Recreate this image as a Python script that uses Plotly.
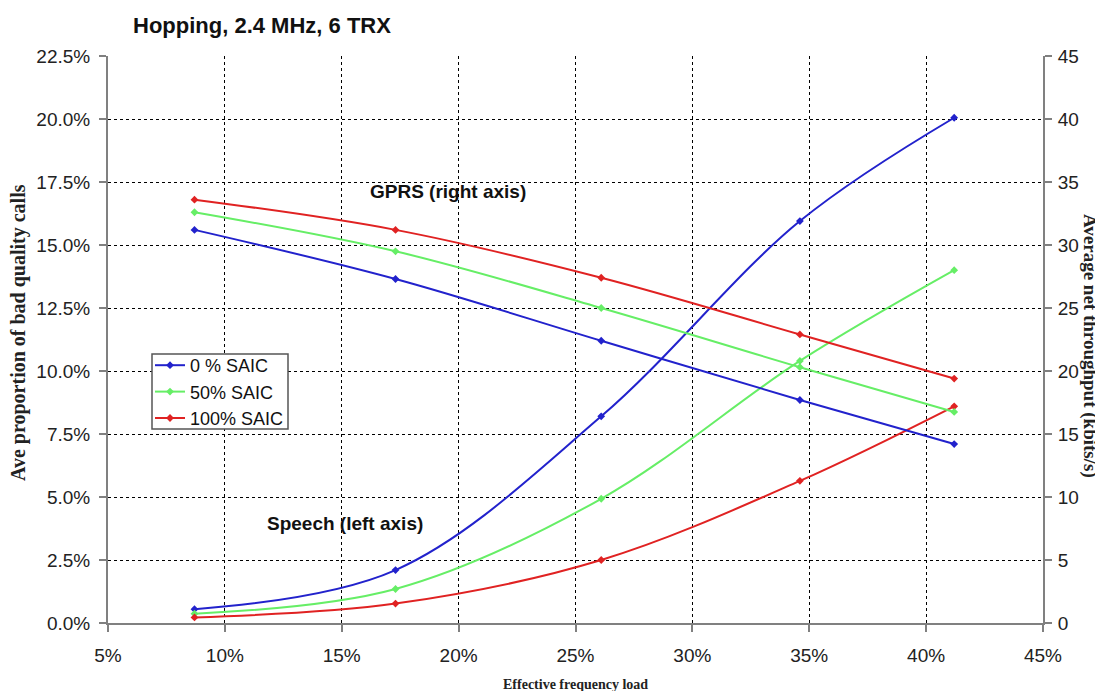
import plotly.graph_objects as go

# effective frequency load (%)
freq_load = [8.7, 17.3, 26.1, 34.6, 41.2]

# speech: ave proportion of bad quality calls (%), left axis
speech_0 = [0.55, 2.1, 8.2, 15.95, 20.05]
speech_50 = [0.37, 1.35, 4.93, 10.4, 14.0]
speech_100 = [0.22, 0.77, 2.5, 5.64, 8.6]

# GPRS: average net throughput (kbits/s), right axis
gprs_0 = [31.2, 27.3, 22.4, 17.7, 14.2]
gprs_50 = [32.6, 29.5, 25.0, 20.3, 16.75]
gprs_100 = [33.6, 31.2, 27.4, 22.9, 19.4]

series_names = ["0 % SAIC", "50% SAIC", "100% SAIC"]
COLORS = ["#2222cc", "#66ee66", "#e02222"]

AX_GRAY = "#808080"
SANS = "Arial, Liberation Sans, sans-serif"
SERIF_BOLD = "Liberation Serif, Times New Roman, serif"
TICK_FONT = dict(family=SANS, size=19, color="#222222")

# page body has an 8px margin, so the figure is drawn 8px in from the corner
W, H = 1095, 683
PLOT_L, PLOT_R, PLOT_T, PLOT_B = 108, 1043, 56, 623  # page pixels
PW, PH = PLOT_R - PLOT_L, PLOT_B - PLOT_T


def px(x):
    return (x - PLOT_L) / PW


def py(y):
    return (PLOT_B - y) / PH


fig = go.Figure()

for name, col, sp, gp in zip(series_names, COLORS,
                             [speech_0, speech_50, speech_100],
                             [gprs_0, gprs_50, gprs_100]):
    # speech line on left axis (shown in legend)
    fig.add_trace(go.Scatter(
        x=freq_load, y=sp, name=name, legendgroup=name,
        mode="lines+markers",
        line=dict(color=col, width=2, shape="spline", smoothing=1),
        marker=dict(symbol="diamond", size=6, color=col),
        yaxis="y"
    ))
    # GPRS line on right axis
    fig.add_trace(go.Scatter(
        x=freq_load, y=gp, name=name, legendgroup=name, showlegend=False,
        mode="lines+markers",
        line=dict(color=col, width=2, shape="spline", smoothing=1),
        marker=dict(symbol="diamond", size=6, color=col),
        yaxis="y2"
    ))

fig.update_layout(
    width=W, height=H,
    margin=dict(l=PLOT_L - 8, r=W - (PLOT_R - 8), t=PLOT_T - 8, b=H - (PLOT_B - 8)),
    paper_bgcolor="white", plot_bgcolor="white",
    font=TICK_FONT,
    xaxis=dict(
        range=[5, 45], dtick=5, tick0=5, ticksuffix="%",
        showgrid=True, gridcolor="black", griddash="dot", gridwidth=1,
        showline=True, linecolor=AX_GRAY, linewidth=2,
        ticks="outside", ticklen=7, tickcolor=AX_GRAY, tickwidth=2,
        ticklabelstandoff=7, tickfont=TICK_FONT, zeroline=False,
    ),
    yaxis=dict(
        range=[0, 22.5], dtick=2.5, tick0=0, tickformat=".1f", ticksuffix="%",
        showgrid=True, gridcolor="black", griddash="dot", gridwidth=1,
        showline=True, linecolor=AX_GRAY, linewidth=2,
        ticks="outside", ticklen=7, tickcolor=AX_GRAY, tickwidth=2,
        ticklabelstandoff=5, tickfont=TICK_FONT, zeroline=False,
    ),
    yaxis2=dict(
        range=[0, 45], dtick=5, tick0=0, overlaying="y", side="right",
        showgrid=False,
        showline=True, linecolor=AX_GRAY, linewidth=2,
        ticks="outside", ticklen=7, tickcolor=AX_GRAY, tickwidth=2,
        ticklabelstandoff=2, tickfont=TICK_FONT, zeroline=False,
    ),
    legend=dict(
        x=px(150), y=py(347), xanchor="left", yanchor="top",
        bgcolor="rgba(0,0,0,0)", borderwidth=0,
        font=dict(family=SANS, size=18, color="#111111"),
        tracegroupgap=0, itemwidth=30,
    ),
    showlegend=True,
    # legend frame (white box with grey border)
    shapes=[dict(
        type="rect", xref="paper", yref="paper",
        x0=px(152), x1=px(288), y0=py(354), y1=py(429),
        fillcolor="white", line=dict(color="#555555", width=1.5), layer="above",
    )],
)

annots = [
    dict(text="<b>Hopping, 2.4 MHz, 6 TRX</b>", xref="paper", yref="paper",
         x=px(131), y=py(26), xanchor="left", yanchor="middle",
         showarrow=False, font=dict(family=SANS, size=22, color="#111111")),
    dict(text="<b>GPRS (right axis)</b>", xref="paper", yref="paper",
         x=px(448), y=py(191), xanchor="center", yanchor="middle",
         showarrow=False, font=dict(family=SANS, size=19, color="#111111")),
    dict(text="<b>Speech (left axis)</b>", xref="paper", yref="paper",
         x=px(345), y=py(523), xanchor="center", yanchor="middle",
         showarrow=False, font=dict(family=SANS, size=19, color="#111111")),
    dict(text="<b>Ave proportion of bad quality calls</b>", xref="paper", yref="paper",
         x=px(18), y=py(333), xanchor="center", yanchor="middle",
         textangle=-90, showarrow=False,
         font=dict(family=SERIF_BOLD, size=20, color="#222222")),
    dict(text="<b>Average net throughput (kbits/s)</b>", xref="paper", yref="paper",
         x=px(1090), y=py(346), xanchor="center", yanchor="middle",
         textangle=90, showarrow=False,
         font=dict(family=SERIF_BOLD, size=19, color="#222222")),
    dict(text="<b>Effective frequency load</b>", xref="paper", yref="paper",
         x=0.5, y=py(684), xanchor="center", yanchor="middle",
         showarrow=False, font=dict(family=SERIF_BOLD, size=14, color="#222222")),
]
fig.update_layout(annotations=annots)

fig.write_html("out.html")
